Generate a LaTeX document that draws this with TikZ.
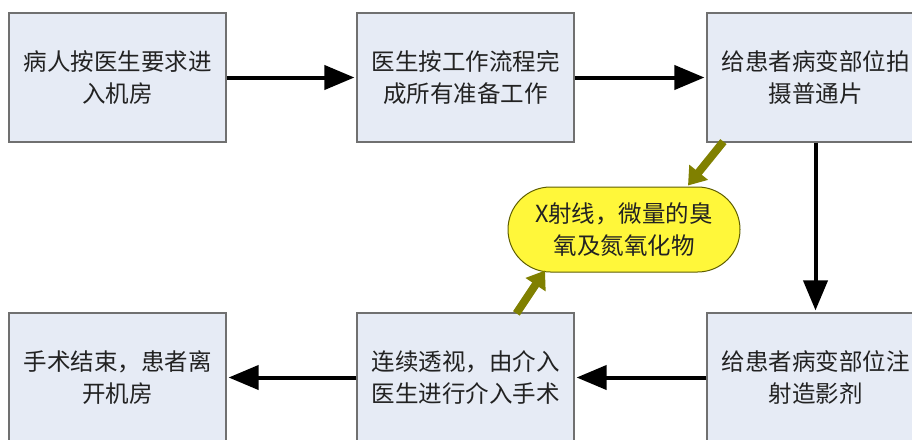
\documentclass[tikz,border=0pt]{standalone}
\usepackage{fontspec}
\newfontfamily\cjk{Noto Sans CJK SC}
\usetikzlibrary{arrows.meta,shapes.misc}
\definecolor{boxfill}{HTML}{E6EBF5}
\definecolor{boxline}{HTML}{707070}
\definecolor{ellfill}{HTML}{FFF73A}
\definecolor{ellline}{HTML}{5E5E00}
\definecolor{olivearrow}{HTML}{808000}
\definecolor{txt}{HTML}{222222}
\begin{document}
\begin{tikzpicture}[x=1pt,y=-1pt,
  stepbox/.style={draw=boxline, fill=boxfill, line width=1.2pt, minimum width=217pt, minimum height=129pt, inner sep=0pt, align=center, text=txt, font=\cjk\fontsize{23.5}{32}\selectfont},
  ellbox/.style={rounded rectangle, draw=ellline, fill=ellfill, line width=1pt, minimum width=232pt, minimum height=85pt, inner sep=0pt, align=center, text=txt, font=\cjk\fontsize{23.5}{32}\selectfont},
  blackarrow/.style={line width=4pt, -{Triangle[length=30pt,width=24pt]}, shorten >=2pt},
  oarrow/.style={line width=8pt, draw=olivearrow, -{Triangle[length=17pt,width=23pt]}}]
\clip (0,0) rectangle (912,439);
\useasboundingbox (0,0) rectangle (912,439);
\fill[white] (0,0) rectangle (912,439);
\node[stepbox] (b1) at (117.5,77.5) {病人按医生要求进\\入机房};
\node[stepbox] (b2) at (465.5,77.5) {医生按工作流程完\\成所有准备工作};
\node[stepbox] (b3) at (815.5,77.5) {给患者病变部位拍\\摄普通片};
\node[stepbox] (b4) at (117.5,377.5) {手术结束，患者离\\开机房};
\node[stepbox] (b5) at (465.5,377.5) {连续透视，由介入\\医生进行介入手术};
\node[stepbox] (b6) at (815.5,377.5) {给患者病变部位注\\射造影剂};
\node[ellbox] (ell) at (624,229.5) {X射线，微量的臭\\氧及氮氧化物};
\draw[blackarrow] (b1.east) -- (b2.west);
\draw[blackarrow] (b2.east) -- (b3.west);
\draw[blackarrow] (b3.south) -- (b6.north);
\draw[blackarrow] (b6.west) -- (b5.east);
\draw[blackarrow] (b5.west) -- (b4.east);
\draw[oarrow] ([xshift=17pt,yshift=1pt]b3.south west) -- ([xshift=64pt,yshift=1pt]ell.north);
\draw[oarrow] ([xshift=160pt,yshift=-1pt]b5.north west) -- ([xshift=-79pt,yshift=2pt]ell.south);
\end{tikzpicture}
\end{document}
